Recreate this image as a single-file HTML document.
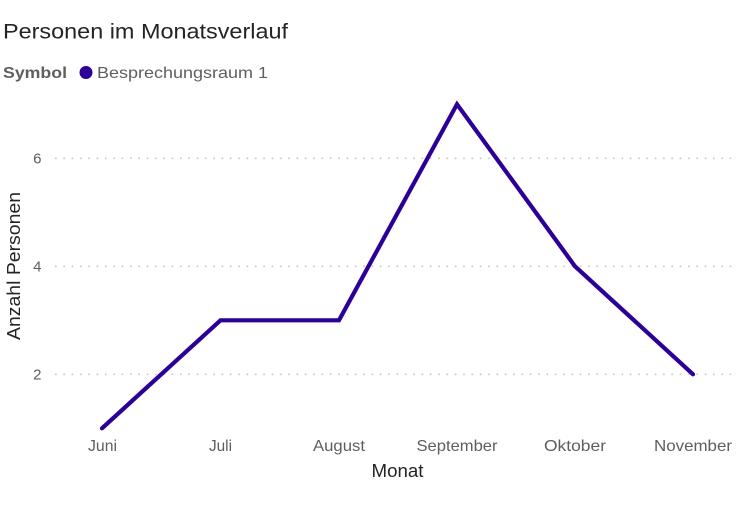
<!DOCTYPE html>
<html><head><meta charset="utf-8"><style>
html,body{margin:0;padding:0;background:#fff;}
svg{display:block;}
</style></head><body>
<svg width="736" height="509" viewBox="0 0 736 509" xmlns="http://www.w3.org/2000/svg" font-family="Liberation Sans, sans-serif">
<text x="3" y="38.5" font-size="21" fill="#252423" textLength="285" lengthAdjust="spacingAndGlyphs">Personen im Monatsverlauf</text>
<text x="3" y="78" font-size="16" font-weight="bold" fill="#605e5c" textLength="64" lengthAdjust="spacingAndGlyphs">Symbol</text>
<circle cx="86" cy="72.5" r="6.5" fill="#2c0096"/>
<text x="97" y="78" font-size="16" fill="#605e5c" textLength="171" lengthAdjust="spacingAndGlyphs">Besprechungsraum 1</text>
<g stroke="#c8c6c4" stroke-width="1.6" stroke-dasharray="1.6 6.73">
<line x1="55" y1="158.3" x2="736" y2="158.3"/>
<line x1="55" y1="266.3" x2="736" y2="266.3"/>
<line x1="55" y1="374.3" x2="736" y2="374.3"/>
</g>
<g font-size="15" fill="#605e5c" text-anchor="end">
<text x="41.5" y="163.5">6</text>
<text x="41.5" y="271.5">4</text>
<text x="41.5" y="379.5">2</text>
</g>
<text transform="translate(20,266) rotate(-90)" font-size="18" fill="#252423" text-anchor="middle" textLength="148" lengthAdjust="spacingAndGlyphs">Anzahl Personen</text>
<g font-size="16" fill="#605e5c" text-anchor="middle">
<text x="102.5" y="451" textLength="29" lengthAdjust="spacingAndGlyphs">Juni</text>
<text x="220.5" y="451" textLength="23" lengthAdjust="spacingAndGlyphs">Juli</text>
<text x="339" y="451" textLength="52" lengthAdjust="spacingAndGlyphs">August</text>
<text x="457" y="451" textLength="81" lengthAdjust="spacingAndGlyphs">September</text>
<text x="575" y="451" textLength="62" lengthAdjust="spacingAndGlyphs">Oktober</text>
<text x="693" y="451" textLength="78" lengthAdjust="spacingAndGlyphs">November</text>
</g>
<text x="397.5" y="477" font-size="18" fill="#252423" text-anchor="middle" textLength="52" lengthAdjust="spacingAndGlyphs">Monat</text>
<polyline points="102,428.3 220.5,320.3 339,320.3 457,104.3 575,266.3 693,374.3" fill="none" stroke="#2c0096" stroke-width="4.2" stroke-linejoin="miter" stroke-linecap="round"/>
</svg>
</body></html>
